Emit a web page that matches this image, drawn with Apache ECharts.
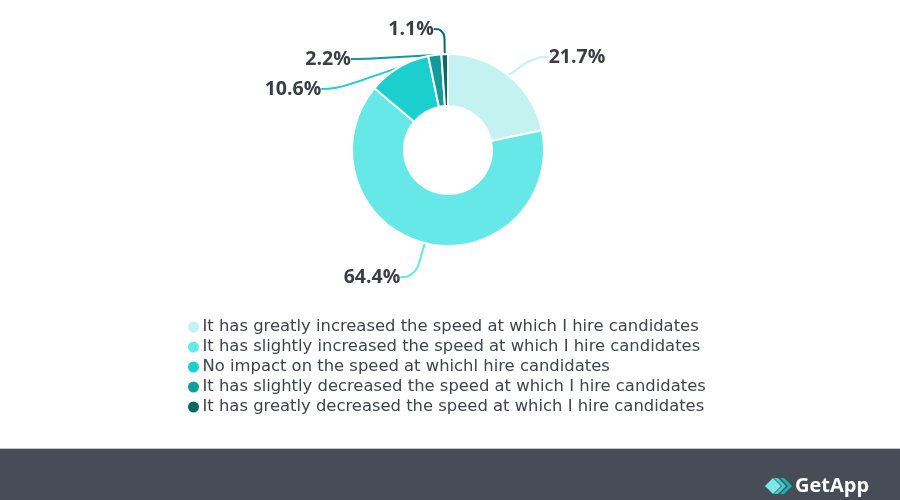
<!DOCTYPE html>
<html>
<head>
<meta charset="utf-8">
<script src="https://cdn.jsdelivr.net/npm/echarts@6/dist/echarts.min.js"></script>
<style>
html,body{margin:0;padding:0;background:#fff;}
#chart{width:900px;height:500px;}
</style>
</head>
<body>
<div id="chart"></div>
<script>
const categories = [
  "It has greatly increased the speed at which I hire candidates",
  "It has slightly increased the speed at which I hire candidates",
  "No impact on the speed at whichl hire candidates",
  "It has slightly decreased the speed at which I hire candidates",
  "It has greatly decreased the speed at which I hire candidates"
];
const values = [21.7, 64.4, 10.6, 2.2, 1.1];
const colors = ["#c3f2f1", "#66e8e8", "#1ccfcf", "#0f9c9a", "#0a6863"];
// label anchor positions (layout only)
const labelPos = [[577, 57], [372, 277], [293, 89], [328, 59], [411, 29]];

const chart = echarts.init(document.getElementById('chart'));
const data = categories.map((c, i) => ({
  name: c, value: values[i],
  itemStyle: { color: colors[i] },
  labelLine: { lineStyle: { color: colors[i] } }
}));

chart.setOption({
  animation: false,
  backgroundColor: '#ffffff',
  legend: {
    orient: 'vertical',
    left: 181,
    top: 314,
    itemGap: 4,
    itemWidth: 14,
    itemHeight: 13,
    icon: 'circle',
    textStyle: { fontFamily: 'DejaVu Sans', fontSize: 16.4, color: '#40444b', padding: [0, 0, 0, -3] },
    data: categories
  },
  graphic: [
    { type: 'rect', shape: { x: 0, y: 448, width: 900, height: 1 }, style: { fill: '#c4c6c8' } },
    { type: 'rect', shape: { x: 0, y: 449, width: 900, height: 51 }, style: { fill: '#474d56' } },
    { type: 'polygon', shape: { points: [[765, 486], [773, 478], [781, 486], [773, 494]] }, style: { fill: '#7de8e6' } },
    { type: 'polygon', shape: { points: [[774, 478], [778, 478], [786, 486], [778, 494], [774, 494], [782, 486]] }, style: { fill: '#3cd3d2' } },
    { type: 'polygon', shape: { points: [[780, 478], [784, 478], [792, 486], [784, 494], [780, 494], [788, 486]] }, style: { fill: '#19b5b3' } },
    { type: 'text', x: 795, y: 486, style: { text: 'GetApp', fill: '#ffffff', font: 'bold 20px "Open Sans"', verticalAlign: 'middle' } }
  ],
  series: [{
    type: 'pie',
    center: [448, 150],
    radius: [44, 96],
    startAngle: 90,
    clockwise: true,
    itemStyle: { borderColor: '#ffffff', borderWidth: 2 },
    label: {
      show: true,
      formatter: p => p.value.toFixed(1) + '%',
      fontFamily: 'Open Sans',
      fontWeight: 'bold',
      fontSize: 19.5,
      color: '#3a3e45'
    },
    labelLine: { show: true, smooth: 0.5, length: 15, length2: 15, lineStyle: { width: 2 } },
    labelLayout: params => ({
      x: labelPos[params.dataIndex][0],
      y: labelPos[params.dataIndex][1],
      align: 'center',
      verticalAlign: 'middle'
    }),
    data: data
  }]
});
</script>
</body>
</html>
